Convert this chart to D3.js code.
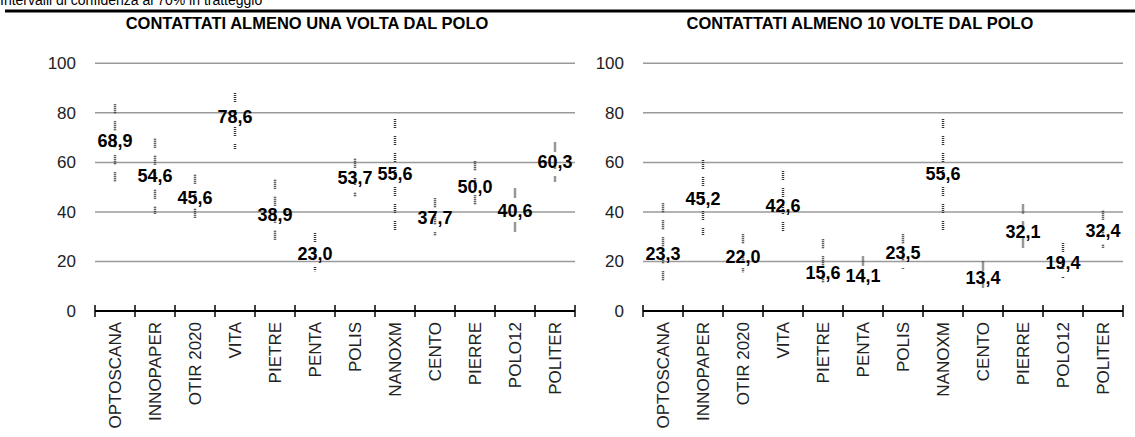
<!DOCTYPE html>
<html>
<head>
<meta charset="utf-8">
<script src="https://cdn.jsdelivr.net/npm/d3@7"></script>
<style>
    body { margin: 0; background: #fff; }
    svg { display: block; font-family: "Liberation Sans", Arial, sans-serif; }
</style>
</head>
<body>
<svg id="chart" width="1135" height="437"></svg>
<script>
// Categories shared by both panels
const categories = ["OPTOSCANA", "INNOPAPER", "OTIR 2020", "VITA", "PIETRE", "PENTA",
    "POLIS", "NANOXM", "CENTO", "PIERRE", "POLO12", "POLITER"];

// Panel 1 - contacted at least once
const onceValues = [68.9, 54.6, 45.6, 78.6, 38.9, 23.0, 53.7, 55.6, 37.7, 50.0, 40.6, 60.3];
const onceLow = [51, 39, 36.5, 65, 27, 16, 46, 31, 30.5, 41.5, 32, 52];
const onceHigh = [83.5, 69.5, 55, 88, 53, 31.5, 61.5, 77.5, 45.5, 60.5, 49.5, 68];

// Panel 2 - contacted at least 10 times
const tenValues = [23.3, 45.2, 22.0, 42.6, 15.6, 14.1, 23.5, 55.6, 13.4, 32.1, 19.4, 32.4];
const tenLow = [11, 30.5, 15.5, 31, 10.5, 9.5, 17, 31, 8.5, 24.5, 13, 25.5];
const tenHigh = [43.5, 61, 31, 56.5, 29, 22, 31, 77.5, 20, 43, 27.5, 40.5];

const yTicks = [0, 20, 40, 60, 80, 100];

const itLocale = d3.formatLocale({ decimal: ",", thousands: ".", grouping: [3], currency: ["", " €"] });
const fmt = itLocale.format(".1f");

const svg = d3.select("#chart");

// Note on top (partly cut off in the original) and rule
svg.append("text")
    .attr("x", 0)
    .attr("y", 5)
    .style("font-size", "14px")
    .attr("fill", "#000")
    .text("Intervalli di confidenza al 70% in tratteggio");

svg.append("line")
    .attr("x1", 5).attr("x2", 1135)
    .attr("y1", 11).attr("y2", 11)
    .attr("stroke", "#000")
    .attr("stroke-width", 3);

const y = d3.scaleLinear().domain([0, 100]).range([311, 63.3]);

function drawPanel(left, title, titleX, values, low, high) {
    const width = 480;
    const x = d3.scaleBand().domain(categories).range([left, left + width]);
    const g = svg.append("g");

    g.append("text")
        .attr("x", titleX)
        .attr("y", 28.5)
        .attr("text-anchor", "middle")
        .style("font-size", "16.5px")
        .style("font-weight", "bold")
        .text(title);

    // gridlines (the 0 line is the x axis)
    g.selectAll(".grid")
        .data(yTicks.filter(t => t > 0))
        .join("line")
        .attr("x1", left).attr("x2", left + width)
        .attr("y1", d => y(d)).attr("y2", d => y(d))
        .attr("stroke", "#9a9a9a")
        .attr("stroke-width", 1.5);

    // y axis labels
    const yAxis = g.append("g")
        .attr("transform", `translate(${left - 19},0)`)
        .call(d3.axisLeft(y).tickValues(yTicks).tickSize(0).tickPadding(0));
    yAxis.select(".domain").remove();
    yAxis.selectAll("text")
        .style("font-size", "17px")
        .style("font-family", "'Liberation Sans', Arial, sans-serif")
        .attr("fill", "#222");

    // x axis line and ticks at band edges
    g.append("line")
        .attr("x1", left).attr("x2", left + width)
        .attr("y1", y(0)).attr("y2", y(0))
        .attr("stroke", "#000")
        .attr("stroke-width", 2);
    const edges = categories.map(c => x(c)).concat([left + width]);
    g.selectAll(".tick-edge")
        .data(edges)
        .join("line")
        .attr("x1", d => d).attr("x2", d => d)
        .attr("y1", y(0) - 6).attr("y2", y(0) + 6)
        .attr("stroke", "#000")
        .attr("stroke-width", 1.5);

    // category labels, rotated
    g.selectAll(".cat")
        .data(categories)
        .join("text")
        .attr("transform", d => `translate(${x(d) + x.bandwidth() / 2},322) rotate(-90)`)
        .attr("text-anchor", "end")
        .attr("dy", "0.35em")
        .style("font-size", "17px")
        .attr("fill", "#222")
        .text(d => d);

    // confidence intervals (dashed)
    g.selectAll(".ci")
        .data(categories)
        .join("line")
        .attr("x1", d => x(d) + x.bandwidth() / 2)
        .attr("x2", d => x(d) + x.bandwidth() / 2)
        .attr("y1", (d, i) => y(high[i]))
        .attr("y2", (d, i) => y(low[i]))
        .attr("stroke", "#333")
        .attr("stroke-width", 2.5)
        .attr("stroke-dasharray", "1,1,1,1,1,1,1,1,1,8");

    // point values
    g.selectAll(".val")
        .data(categories)
        .join("text")
        .attr("x", d => x(d) + x.bandwidth() / 2)
        .attr("y", (d, i) => y(values[i]))
        .attr("text-anchor", "middle")
        .attr("dy", "0.35em")
        .style("font-size", "18px")
        .style("font-weight", "bold")
        .attr("fill", "#000")
        .text((d, i) => fmt(values[i]));
}

drawPanel(95, "CONTATTATI ALMENO UNA VOLTA DAL POLO", 307, onceValues, onceLow, onceHigh);
drawPanel(643, "CONTATTATI ALMENO 10 VOLTE DAL POLO", 860, tenValues, tenLow, tenHigh);
</script>
</body>
</html>
